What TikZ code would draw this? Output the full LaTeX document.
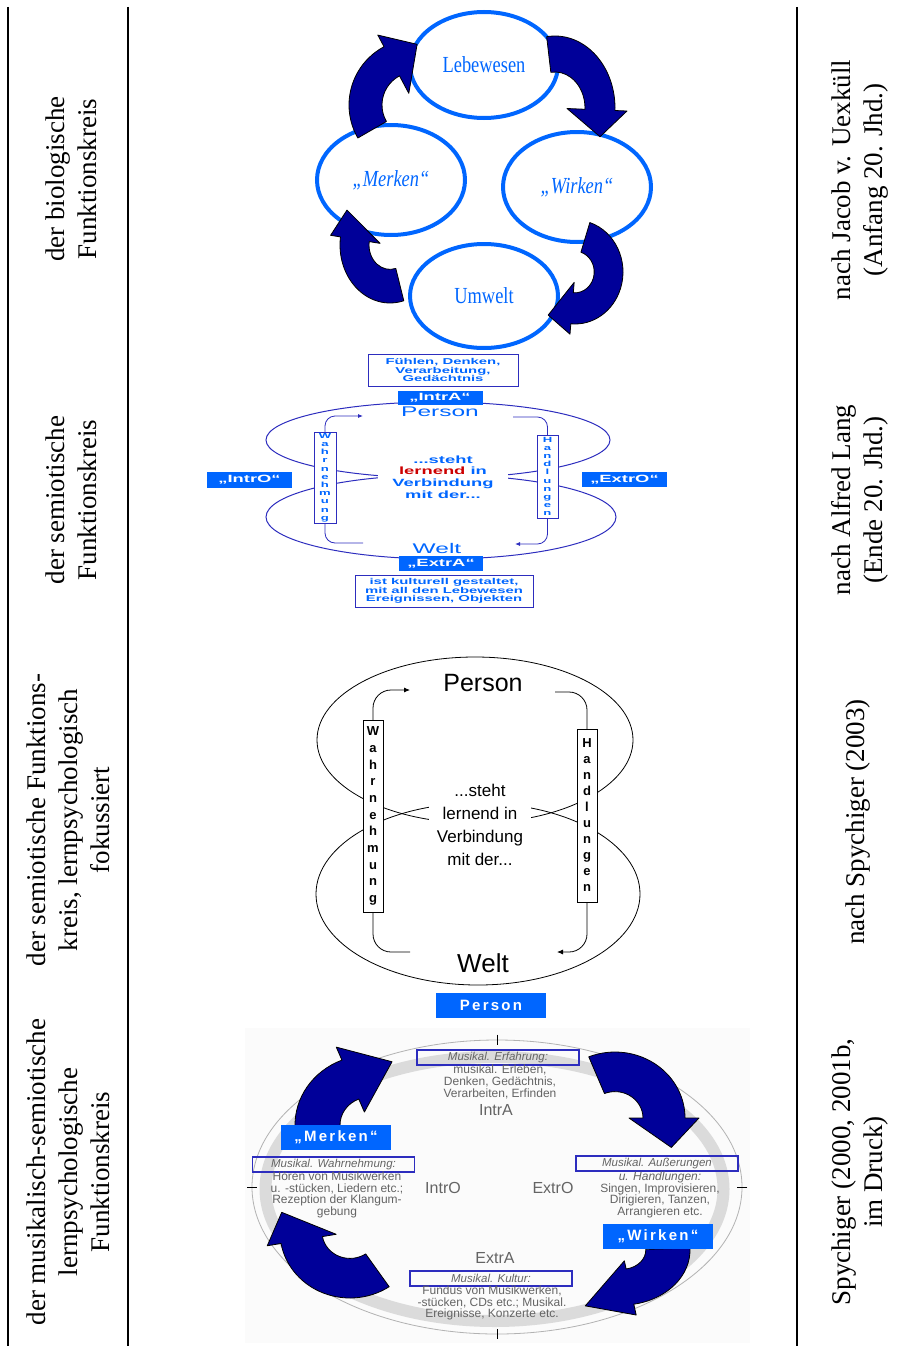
\documentclass[tikz,border=0pt]{standalone}
\usepackage{fontspec}
\setmainfont{Liberation Serif}
\setsansfont{Liberation Sans}
\newfontfamily\schmal[FakeStretch=0.8]{Liberation Serif}
\newfontfamily\gedehnt[FakeStretch=1.75]{Liberation Sans}
\newfontfamily\gesperrt[LetterSpace=15]{Liberation Sans}
\usetikzlibrary{shapes.geometric,arrows.meta}
\definecolor{hellblau}{RGB}{0,102,255}
\definecolor{navy}{RGB}{0,0,153}
\definecolor{rahmen}{RGB}{45,45,190}
\definecolor{grau}{RGB}{100,100,100}
\definecolor{rot}{RGB}{204,0,0}
\tikzstyle{regel} = [line width=2.5pt]
\tikzstyle{kopf} = [rotate=90,align=center,font=\fontsize{27}{32}\selectfont]
\tikzstyle{kreis} = [draw=hellblau,ellipse,line width=4pt,minimum width=148pt,inner sep=0pt,text=hellblau,font=\schmal\fontsize{23}{23}\selectfont]
\tikzstyle{bogen} = [fill=navy,draw=black,line width=0.8pt,line join=round]
\tikzstyle{ring} = [draw,ellipse,inner sep=0pt]
\tikzstyle{marke} = [fill=hellblau,text=white,inner sep=0pt,font=\gedehnt\bfseries\fontsize{10.5}{10.5}\selectfont]
\tikzstyle{info} = [draw=rahmen,fill=white,align=center,text=hellblau,inner sep=0pt,font=\gedehnt\bfseries\fontsize{8.5}{8.6}\selectfont]
\tikzstyle{leiste} = [draw,fill=white,align=center,inner sep=0pt]
\tikzstyle{zug} = [rounded corners=10pt,line width=0.8pt]
\tikzstyle{spitze} = [-{Latex[length=6pt,width=5pt]}]
\tikzstyle{etikett} = [fill=hellblau,text=white,inner sep=0pt,minimum width=110pt,minimum height=25pt,font=\gesperrt\bfseries\fontsize{15}{15}\selectfont]
\tikzstyle{rubrik} = [draw=rahmen,line width=1.5pt,minimum width=162pt,minimum height=15pt,inner sep=0pt,text=grau,font=\sffamily\itshape\fontsize{11.5}{11.5}\selectfont]
\tikzstyle{fliess} = [align=center,text=grau,inner sep=0pt,font=\sffamily\fontsize{12}{11.7}\selectfont]
\tikzstyle{pol} = [text=grau,font=\sffamily\fontsize{16}{16}\selectfont]
\newcommand\bogenpfeil[8]{%
  \draw[bogen,shift={#1},xscale=#2,yscale=#3]
    (#4:1pt) arc[start angle=#4,end angle=#5,radius=1pt] -- (#5:1.2pt)
    -- (#6:#7pt) -- (#5:0.2pt) -- (#5:#8pt)
    arc[start angle=#5,end angle=#4,radius=#8pt] -- cycle;}

\begin{document}
\begin{tikzpicture}[x=1pt,y=1pt]

\useasboundingbox (0,0) rectangle (909,-1346);

\draw[regel] (8,-7) -- (8,-1346);
\draw[regel] (128,-7) -- (128,-1346);
\draw[regel] (797,-7) -- (797,-1346);

\node[kopf] (k1) at (71,-179) {der biologische\\Funktionskreis};
\node[kopf] (k2) at (71,-500) {der semiotische\\Funktionskreis};
\node[kopf] (k3) at (68,-820) {der semiotische Funktions-\\kreis, lernpsychologisch\\fokussiert};
\node[kopf] (k4) at (68,-1172) {der musikalisch-semiotische\\lernpsychologische\\Funktionskreis};
\node[kopf] (q1) at (860,-180) {nach Jacob v. Uexküll\\(Anfang 20. Jhd.)};
\node[kopf] (q2) at (860,-500) {nach Alfred Lang\\(Ende 20. Jhd.)};
\node[kopf] (q3) at (858,-822) {nach Spychiger (2003)};
\node[kopf] (q4) at (860,-1172) {Spychiger (2000, 2001b,\\im Druck)};

\node[kreis,minimum height=106pt] (leb) at (484,-65) {Lebewesen};
\node[kreis,minimum height=110pt] (mer) at (391,-180) {\itshape „Merken“};
\node[kreis,minimum height=110pt] (wir) at (577,-187) {\itshape „Wirken“};
\node[kreis,minimum height=104pt] (umw) at (484,-296) {Umwelt};

\bogenpfeil{(415,-105)}{66}{66}{210}{118}{88}{0.92}{0.5}
\bogenpfeil{(555,-108)}{60}{72}{98}{-2}{-28}{0.85}{0.5}
\bogenpfeil{(575,-272)}{48}{52}{72}{-95}{-124}{1.0}{0.4}
\bogenpfeil{(390,-245)}{50}{58}{286}{172}{145}{1.05}{0.42}

\node[info,minimum width=150pt,minimum height=32pt] (fuehlen) at (443,-370) {Fühlen, Denken,\\Verarbeitung,\\Gedächtnis};
\node[ring,draw=rahmen,line width=1pt,minimum width=344pt,minimum height=76pt] (oben2) at (438,-440) {};
\node[ring,draw=rahmen,line width=1pt,minimum width=350pt,minimum height=84pt] (unten2) at (441,-517) {};
\node[marke,minimum width=85pt,minimum height=14pt] (intra2) at (440,-398) {„IntrA“};
\node[text=hellblau,font=\gedehnt\fontsize{14}{14}\selectfont] (person2) at (440,-412) {Person};
\node[fill=white,align=center,inner xsep=14pt,text=hellblau,font=\gedehnt\bfseries\fontsize{10.5}{11.7}\selectfont] (steht2) at (443,-477) {...steht\\\textcolor{rot}{lernend} in\\Verbindung\\mit der...};
\node[leiste,draw=rahmen,text=hellblau,minimum width=22pt,minimum height=91pt,font=\gedehnt\bfseries\fontsize{7.5}{8.2}\selectfont] (wahr2) at (325,-477.5) {W\\a\\h\\r\\n\\e\\h\\m\\u\\n\\g};
\node[leiste,draw=rahmen,text=hellblau,minimum width=21pt,minimum height=83pt,font=\gedehnt\bfseries\fontsize{7.5}{8.2}\selectfont] (hand2) at (547.5,-476.5) {H\\a\\n\\d\\l\\u\\n\\g\\e\\n};
\coordinate (w2o) at (363,-416);
\coordinate (w2u) at (363,-543);
\coordinate (h2o) at (513,-417);
\coordinate (h2u) at (515,-544);
\draw[zug,rahmen,-{Latex[length=5pt,width=4pt]}] (wahr2.north) |- (w2o);
\draw[zug,rahmen] (wahr2.south) |- (w2u);
\draw[zug,rahmen] (h2o) -| (hand2.north);
\draw[zug,rahmen,-{Latex[length=5pt,width=4pt]}] (hand2.south) |- (h2u);
\node[marke,minimum width=85pt,minimum height=16pt] (intro2) at (249.5,-480) {„IntrO“};
\node[marke,minimum width=85pt,minimum height=15pt] (extro2) at (624.5,-479.5) {„ExtrO“};
\node[text=hellblau,font=\gedehnt\fontsize{14}{14}\selectfont] (welt2) at (437,-548) {Welt};
\node[marke,minimum width=84pt,minimum height=15pt] (extra2) at (441,-563.5) {„ExtrA“};
\node[info,minimum width=178pt,minimum height=32pt] (kultur2) at (444,-591) {ist kulturell gestaltet,\\mit all den Lebewesen\\Ereignissen, Objekten};

\node[ring,line width=0.8pt,minimum width=316pt,minimum height=166pt] (oben3) at (475,-740) {};
\node[ring,line width=0.8pt,minimum width=324pt,minimum height=182pt] (unten3) at (478,-894) {};
\node[font=\sffamily\fontsize{25}{25}\selectfont] (person3) at (483,-683) {Person};
\node[font=\sffamily\fontsize{26}{26}\selectfont] (welt3) at (483,-963) {Welt};
\node[fill=white,align=center,inner xsep=8pt,font=\sffamily\fontsize{17}{23}\selectfont] (steht3) at (480,-825) {...steht\\lernend in\\Verbindung\\mit der...};
\node[leiste,minimum width=20pt,minimum height=192pt,font=\sffamily\bfseries\fontsize{13}{16.7}\selectfont] (wahr3) at (373,-816) {W\\a\\h\\r\\n\\e\\h\\m\\u\\n\\g};
\node[leiste,minimum width=20pt,minimum height=173pt,font=\sffamily\bfseries\fontsize{13}{16}\selectfont] (hand3) at (587,-815.5) {H\\a\\n\\d\\l\\u\\n\\g\\e\\n};
\coordinate (w3o) at (410,-690);
\coordinate (w3u) at (410,-952);
\coordinate (h3o) at (555,-692);
\coordinate (h3u) at (557,-952);
\draw[zug,rounded corners=18pt,spitze] (wahr3.north) |- (w3o);
\draw[zug,rounded corners=18pt] (wahr3.south) |- (w3u);
\draw[zug,rounded corners=18pt] (h3o) -| (hand3.north);
\draw[zug,rounded corners=18pt,spitze] (hand3.south) |- (h3u);

\fill[gray!3] (245,-1028) rectangle (750,-1343);
\node[ring,draw=gray!60,line width=0.8pt,minimum width=490pt,minimum height=294pt] (aussen4) at (497,-1187) {};
\node[ring,draw=gray!28,line width=12pt,minimum width=458pt,minimum height=264pt] (band4) at (494.5,-1189) {};
\foreach \a in {north,south}
  \draw[line width=0.8pt] ([yshift=5pt]aussen4.\a) -- ([yshift=-5pt]aussen4.\a);
\foreach \a in {east,west}
  \draw[line width=0.8pt] ([xshift=5pt]aussen4.\a) -- ([xshift=-5pt]aussen4.\a);

\node[etikett] (person4) at (491,-1005) {Person};
\node[rubrik] (erf4) at (498,-1057.5) {Musikal. Erfahrung:};
\node[fliess] (erftext) at (500,-1082) {musikal. Erleben,\\Denken, Gedächtnis,\\Verarbeiten, Erfinden};
\node[pol] (intra4) at (496,-1110) {IntrA};
\node[rubrik] (wahr4) at (333.5,-1164.5) {Musikal. Wahrnehmung:};
\node[fliess] (wahrtext) at (337,-1195) {Hören von Musikwerken\\u. -stücken, Liedern etc.;\\Rezeption der Klangum-\\gebung};
\node[pol] (intro4) at (443,-1188) {IntrO};
\node[pol] (extro4) at (553,-1188) {ExtrO};
\node[rubrik] (aeuss4) at (657,-1163.5) {Musikal. Außerungen};
\node[fliess] (aeusstext) at (660,-1195) {{\itshape u. Handlungen:}\\Singen, Improvisieren,\\Dirigieren, Tanzen,\\Arrangieren etc.};
\node[pol] (extra4) at (495,-1258) {ExtrA};
\node[rubrik] (kultur4) at (491,-1278.5) {Musikal. Kultur:};
\node[fliess] (kulturtext) at (492,-1303) {Fundus von Musikwerken,\\-stücken, CDs etc.; Musikal.\\Ereignisse, Konzerte etc.};

\bogenpfeil{(370,-1125)}{75}{70}{182}{112}{72}{0.95}{0.4}
\bogenpfeil{(615,-1118)}{70}{66}{112}{0}{-29}{0.92}{0.4}
\bogenpfeil{(622,-1250)}{68}{55}{2}{-80}{-118}{1.15}{0.35}
\bogenpfeil{(350,-1232)}{70}{66}{304}{190}{163}{1.02}{0.4}

\node[etikett] (merken4) at (336,-1137.5) {„Merken“};
\node[etikett] (wirken4) at (658,-1236.5) {„Wirken“};

\end{tikzpicture}
\end{document}
